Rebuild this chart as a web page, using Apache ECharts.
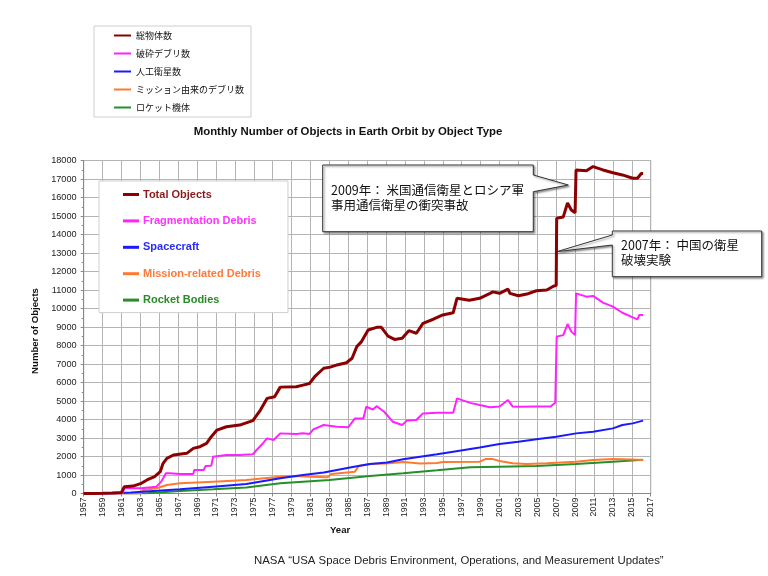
<!DOCTYPE html>
<html>
<head>
<meta charset="utf-8">
<script src="https://cdn.jsdelivr.net/npm/echarts@6/dist/echarts.min.js"></script>
<style>
  html, body { margin: 0; padding: 0; background: #fff; }
  #main { width: 768px; height: 576px; }
</style>
</head>
<body>
<div id="main"></div>
<script>
// 月次データ [年, 個数]
var totalObjects = [
  [1957,0],[1958,5],[1959,10],[1960,30],[1961,60],[1961.3,370],[1962.2,400],[1963.1,550],
  [1963.7,730],[1964.5,910],[1965.1,1180],[1965.4,1630],[1965.8,1900],[1966.5,2080],[1967.9,2170],
  [1968.6,2440],[1969.3,2530],[1970,2710],[1970.5,3070],[1971.1,3430],[1972.1,3610],[1973.5,3700],
  [1974.9,3940],[1975.7,4510],[1976.4,5140],[1977.2,5230],[1977.8,5750],[1979.5,5770],[1980.2,5860],
  [1980.9,5950],[1981.5,6350],[1982.4,6770],[1983.1,6830],[1983.8,6950],[1984.8,7070],[1985.4,7310],
  [1985.9,7940],[1986.4,8210],[1987.1,8840],[1988.0,8980],[1988.5,8980],[1989.2,8510],[1989.9,8330],
  [1990.7,8390],[1991.4,8800],[1992.2,8660],[1992.9,9200],[1994,9420],[1995,9650],[1996.1,9770],
  [1996.5,10550],[1997.8,10450],[1998.9,10550],[2000,10820],[2000.3,10900],[2001,10820],[2001.9,11050],
  [2002.1,10820],[2003,10690],[2003.9,10780],[2004.9,10960],[2006,11000],[2006.7,11200],[2007.0,11250],
  [2007.05,14880],[2007.75,14950],[2008.2,15700],[2008.6,15320],[2009.0,15180],[2009.1,17490],
  [2010.2,17440],[2010.9,17670],[2011.95,17490],[2013,17340],[2014,17220],[2015.1,17040],
  [2015.6,17040],[2016,17300],[2016.2,17300]
];
var fragmentationDebris = [
  [1957,0],[1961.1,0],[1961.3,280],[1963.1,280],[1964.7,370],[1965.2,640],[1965.7,1090],[1966.1,1090],
  [1967.2,1050],[1968.6,1050],[1968.7,1270],[1969.7,1270],[1969.9,1490],[1970.5,1500],[1970.7,1990],
  [1972.1,2080],[1973.5,2080],[1973.7,2170],[1974.9,2120],[1975.3,2350],[1975.8,2620],[1976.4,2980],
  [1977.1,2890],[1977.8,3250],[1979.5,3220],[1980.2,3260],[1980.9,3220],[1981.3,3470],[1982.4,3700],
  [1983.8,3610],[1985,3580],[1985.7,4060],[1986.6,4060],[1986.9,4690],[1987.6,4540],[1988.0,4720],
  [1988.8,4420],[1989.7,3880],[1990.7,3700],[1991.2,3940],[1992.2,3970],[1992.9,4330],[1994.4,4360],
  [1996.1,4370],[1996.5,5140],[1997.9,4900],[1998.9,4780],[2000,4660],[2001,4700],[2001.9,5050],
  [2002.4,4700],[2003,4690],[2004.9,4700],[2006.4,4700],[2006.9,4910],[2007.05,8480],[2007.75,8560],
  [2008.2,9160],[2008.6,8750],[2009.0,8560],[2009.1,10820],[2010.2,10640],[2010.9,10680],
  [2011.95,10320],[2013,10100],[2014,9770],[2015.1,9520],[2015.6,9410],[2015.8,9650],[2016.2,9650]
];
var spacecraft = [
  [1957,0],[1960,10],[1962,50],[1964,120],[1967.2,230],[1970.7,370],[1974.2,510],[1977.8,820],
  [1980.2,1000],[1982.4,1130],[1985.6,1450],[1987.3,1590],[1989.1,1680],[1990.8,1850],[1992.6,1990],
  [1994.4,2120],[1996.1,2260],[1998.9,2490],[2001,2680],[2003,2800],[2004.9,2930],[2007,3070],
  [2009.1,3250],[2010.9,3340],[2013,3520],[2014,3700],[2015.1,3790],[2016.2,3940]
];
var missionDebris = [
  [1957,0],[1963,0],[1963.3,190],[1964.7,280],[1965.8,460],[1967.2,550],[1970.7,640],[1974.2,730],
  [1977.8,910],[1979,950],[1981,900],[1982.8,880],[1983.2,1050],[1985.7,1180],[1986.1,1490],
  [1987.3,1590],[1989,1620],[1990.8,1700],[1992.6,1620],[1994.4,1650],[1995,1700],[1998.9,1720],
  [1999.5,1860],[2000.3,1860],[2001,1760],[2002.4,1630],[2003.9,1600],[2006,1630],[2009.1,1720],
  [2010.9,1810],[2013,1860],[2015.1,1840],[2016.2,1810]
];
var rocketBodies = [
  [1957,0],[1962,5],[1963.7,20],[1967.2,140],[1970.7,230],[1974.2,330],[1977.8,550],[1980.2,640],
  [1983,730],[1987.3,950],[1990.8,1100],[1994.4,1260],[1997.9,1420],[2001,1450],[2004.9,1480],
  [2009.1,1590],[2013,1720],[2016.2,1830]
];

var seriesNames = ['Total Objects', 'Fragmentation Debris', 'Spacecraft', 'Mission-related Debris', 'Rocket Bodies'];
var seriesNamesJa = ['総物体数', '破砕デブリ数', '人工衛星数', 'ミッション由来のデブリ数', 'ロケット機体'];
var seriesColors = ['#8b0000', '#ff22ff', '#1a1aff', '#ff7a2e', '#25902a'];
var legendTextColors = ['#8b1a1a', '#ff33ff', '#2a2aff', '#ff7a3a', '#2a8a2a'];
var seriesData = [totalObjects, fragmentationDebris, spacecraft, missionDebris, rocketBodies];

var BASE_YEAR = 1957;
function shift(arr) {
  return arr.map(function (p) { return [p[0] - BASE_YEAR, p[1]]; });
}

var myChart = echarts.init(document.getElementById('main'));

var option = {
  animation: false,
  title: {
    text: 'Monthly Number of Objects in Earth Orbit by Object Type',
    left: 343, top: 121, textAlign: 'center',
    textStyle: { fontFamily: 'Liberation Sans', fontSize: 11.4, fontWeight: 'bold', color: '#111' }
  },
  legend: [{
    orient: 'vertical',
    left: 94, top: 26,
    padding: [5, 7, 5, 20],
    itemGap: 9,
    itemWidth: 17, itemHeight: 2,
    icon: 'rect',
    borderColor: '#cfcfcf', borderWidth: 1,
    data: seriesNames,
    formatter: function (name) { return seriesNamesJa[seriesNames.indexOf(name)]; },
    textStyle: { fontFamily: 'Noto Sans CJK JP', fontSize: 9, color: '#111' }
  }, {
    orient: 'vertical',
    left: 99, top: 181,
    padding: [8, 27, 7, 24],
    itemGap: 15.4,
    itemWidth: 16, itemHeight: 3,
    icon: 'rect',
    borderColor: '#cfcfcf', borderWidth: 1,
    backgroundColor: '#fff',
    data: seriesNames.map(function (n, i) {
      return { name: n, textStyle: { color: legendTextColors[i] } };
    }),
    textStyle: { fontFamily: 'Liberation Sans', fontSize: 11, fontWeight: 'bold', padding: [0, 0, 0, -1] }
  }],
  grid: {
    left: 83.7, right: 117.3, top: 160.5, bottom: 82.5,
    show: true, borderColor: '#999', borderWidth: 1
  },
  xAxis: {
    type: 'value',
    min: 0, max: 60, interval: 2,
    axisLine: { show: true, lineStyle: { color: '#888' } },
    axisTick: { show: true, length: 3, lineStyle: { color: '#888' } },
    axisLabel: {
      rotate: 90, fontFamily: 'Liberation Sans', fontSize: 8.8, color: '#222', margin: 4,
      formatter: function (v) { return String(BASE_YEAR + v); }
    },
    splitLine: { show: true, lineStyle: { color: '#b4b4b4', width: 1 } }
  },
  yAxis: {
    type: 'value',
    min: 0, max: 18000, interval: 1000,
    name: 'Number of Objects', nameLocation: 'middle', nameGap: 43, nameRotate: 90,
    nameTextStyle: { fontFamily: 'Liberation Sans', fontSize: 9.6, fontWeight: 'bold', color: '#111', padding: [0, 0, 0, -8] },
    axisLine: { show: true, lineStyle: { color: '#888' } },
    axisTick: { show: true, length: 3, lineStyle: { color: '#888' } },
    minorTick: { show: true, splitNumber: 2, length: 2, lineStyle: { color: '#888' } },
    axisLabel: {
      fontFamily: 'Liberation Sans', fontSize: 9.2, color: '#222', margin: 7,
      formatter: function (v) { return String(v); }
    },
    splitLine: { show: true, lineStyle: { color: '#b4b4b4', width: 1 } }
  },
  series: seriesNames.map(function (n, i) {
    return {
      name: n,
      type: 'line',
      data: shift(seriesData[i]),
      showSymbol: false,
      z: 10 - i,
      color: seriesColors[i],
      lineStyle: { width: i === 0 ? 3 : 2, color: seriesColors[i] }
    };
  }),
  graphic: [{
    type: 'polygon',
    shape: { points: [[322.7,165],[533.3,165],[533.3,175],[568.3,185],[533.3,191.7],[533.3,231.7],[322.7,231.7]] },
    style: { fill: '#fff', stroke: '#333', lineWidth: 1, shadowBlur: 2, shadowOffsetX: 1.5, shadowOffsetY: 1.5, shadowColor: 'rgba(0,0,0,0.4)' },
    z: 100
  }, {
    type: 'text',
    left: 331, top: 183,
    style: {
      text: '2009年： 米国通信衛星とロシア軍\n事用通信衛星の衝突事故',
      fontFamily: 'Noto Sans CJK JP', fontSize: 12.5, lineHeight: 15, fill: '#111'
    },
    z: 101
  }, {
    type: 'polygon',
    shape: { points: [[612.3,231],[761.7,231],[761.7,276.7],[612.3,276.7],[612.3,245],[556.7,251.7],[612.3,235]] },
    style: { fill: '#fff', stroke: '#333', lineWidth: 1, shadowBlur: 2, shadowOffsetX: 1.5, shadowOffsetY: 1.5, shadowColor: 'rgba(0,0,0,0.4)' },
    z: 100
  }, {
    type: 'text',
    left: 621, top: 238,
    style: {
      text: '2007年： 中国の衛星\n破壊実験',
      fontFamily: 'Noto Sans CJK JP', fontSize: 12.5, lineHeight: 15, fill: '#111'
    },
    z: 101
  }, {
    type: 'text',
    left: 330, top: 525,
    style: {
      text: 'Year',
      fontFamily: 'Liberation Sans', fontSize: 9.6, fontWeight: 'bold', fill: '#111'
    }
  }, {
    type: 'text',
    left: 254, top: 555,
    style: {
      text: 'NASA “USA Space Debris Environment, Operations, and Measurement Updates”',
      fontFamily: 'Liberation Sans', fontSize: 11.4, fill: '#222'
    }
  }]
};
myChart.setOption(option);
</script>
</body>
</html>
